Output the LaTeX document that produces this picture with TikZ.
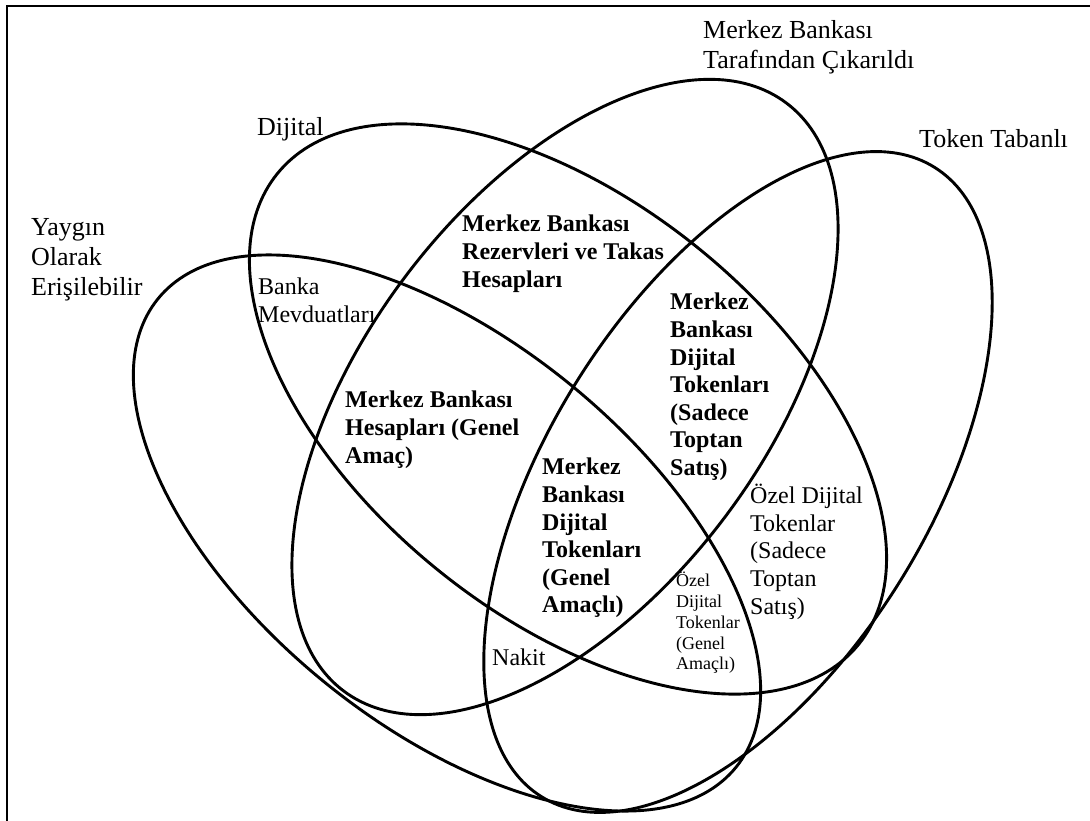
\documentclass[tikz,border=0pt]{standalone}
\usepackage{fontspec}
\setmainfont{Liberation Serif}
\begin{document}
\begin{tikzpicture}[x=1pt,y=-1pt,
  setline/.style={line width=2.9pt},
  framing/.style={line width=2.2pt},
  toplabel/.style={font=\fontsize{26}{30}\selectfont, align=left, anchor=north west, inner sep=0pt},
  plainlabel/.style={font=\fontsize{24}{27.6}\selectfont, align=left, anchor=north west, inner sep=0pt},
  boldlabel/.style={font=\fontsize{24}{27.6}\selectfont\bfseries, align=left, anchor=north west, inner sep=0pt},
  smalllabel/.style={font=\fontsize{18}{20.8}\selectfont, align=left, anchor=north west, inner sep=0pt}]
\useasboundingbox (0,0) rectangle (1090,821);
\fill[white] (0,0) rectangle (1090,821);

% frame: top and left edges only
\coordinate (fbl) at (7,821);
\coordinate (ftl) at (7,6);
\coordinate (ftr) at (1090,6);
\draw[framing] (fbl) -- (ftl) -- (ftr);

% the four sets
% widely accessible
\draw[setline, rotate around={-39:(447,533)}] (447,533) ellipse [x radius=372, y radius=193];
% digital
\draw[setline, rotate around={-39:(568,409)}] (568,409) ellipse [x radius=374, y radius=207];
% issued by the central bank
\draw[setline, rotate around={53:(565,397)}] (565,397) ellipse [x radius=368, y radius=200];
% token based
\draw[setline, rotate around={58:(738,482)}] (738,482) ellipse [x radius=371, y radius=190];

% set names
\node[toplabel] (cbissued) at (703,20) {Merkez Bankası\\Tarafından Çıkarıldı};
\node[toplabel] (tokenbased) at (919,129) {Token Tabanlı};
\node[toplabel] (digital) at (257,117) {Dijital};
\node[toplabel] (widely) at (31,218) {Yaygın\\Olarak\\Erişilebilir};

% region contents
\node[plainlabel] (deposits) at (258,278) {Banka\\Mevduatları};
\node[boldlabel] (reserves) at (462,215) {Merkez Bankası\\Rezervleri ve Takas\\Hesapları};
\node[boldlabel] (wholesalecbdc) at (670,293) {Merkez\\Bankası\\Dijital\\Tokenları\\(Sadece\\Toptan\\Satış)};
\node[boldlabel] (cbaccounts) at (345,391) {Merkez Bankası\\Hesapları (Genel\\Amaç)};
\node[boldlabel] (generalcbdc) at (542,458) {Merkez\\Bankası\\Dijital\\Tokenları\\(Genel\\Amaçlı)};
\node[plainlabel] (privwholesale) at (750,484) {Özel Dijital\\Tokenlar\\(Sadece\\Toptan\\Satış)};
\node[smalllabel] (privgeneral) at (676,572) {Özel\\Dijital\\Tokenlar\\(Genel\\Amaçlı)};
\node[plainlabel] (cash) at (492,649) {Nakit};
\end{tikzpicture}
\end{document}
